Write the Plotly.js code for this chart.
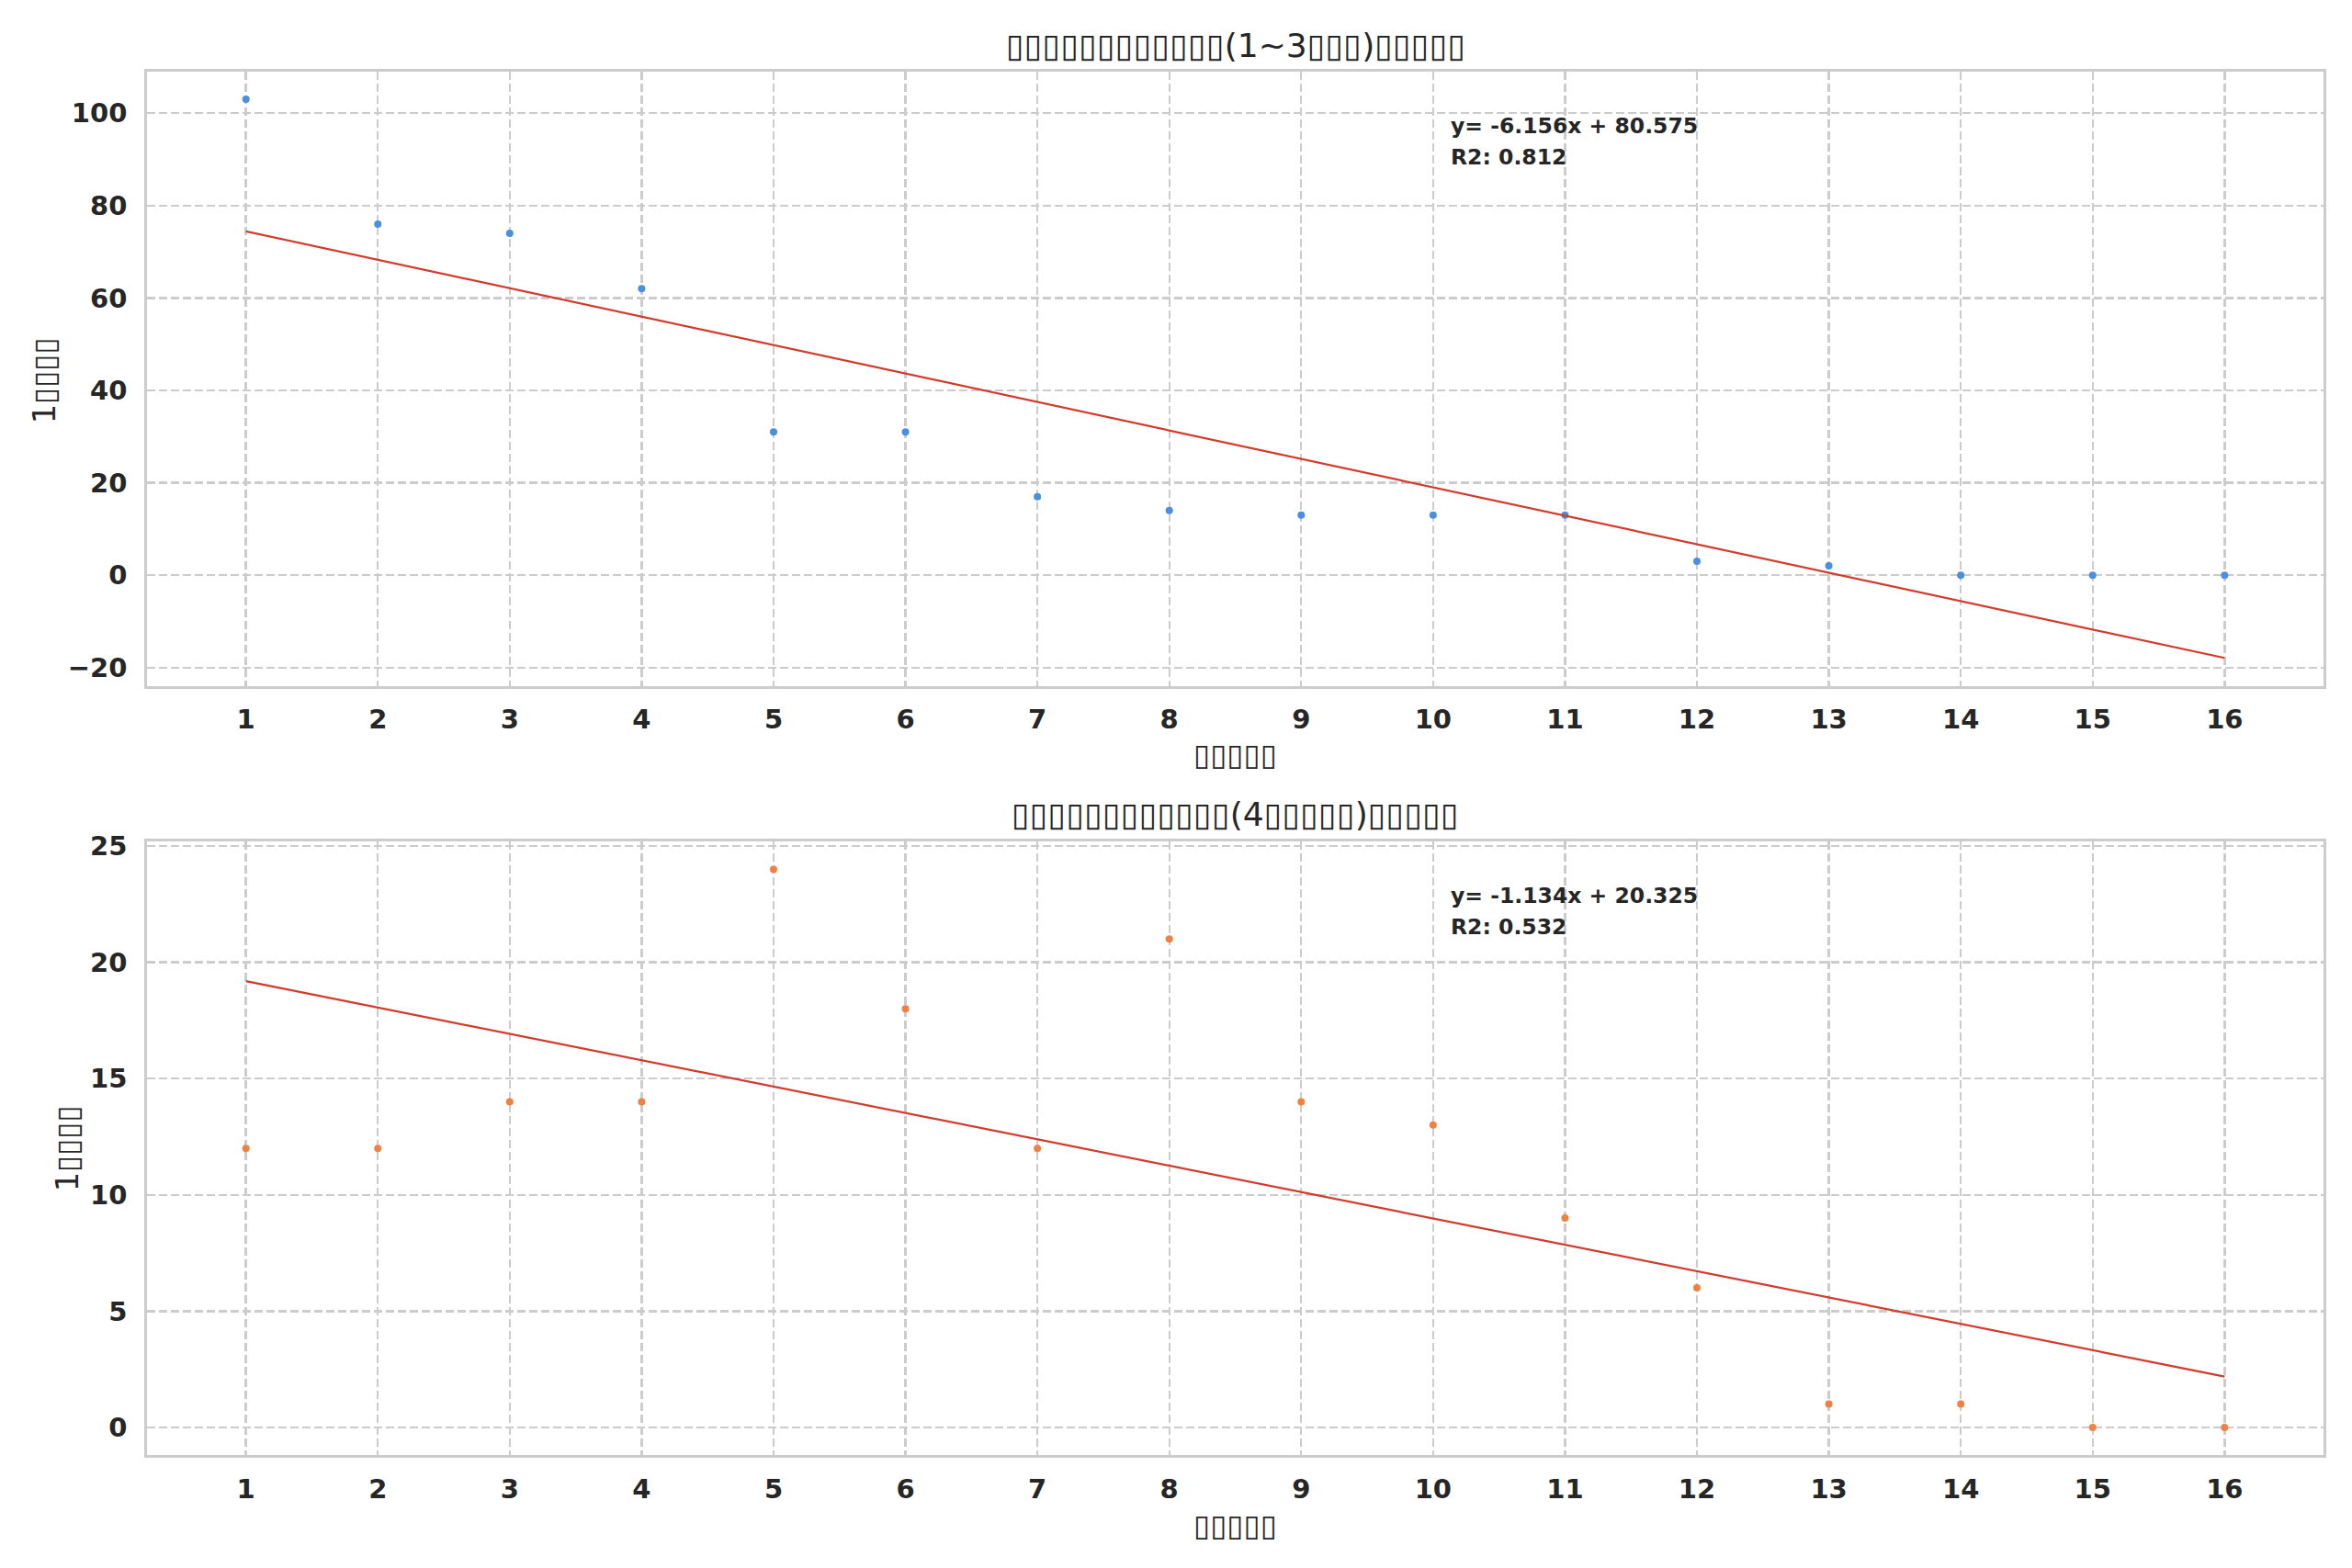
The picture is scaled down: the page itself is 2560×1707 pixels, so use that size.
<!DOCTYPE html>
<html>
<head>
<meta charset="utf-8">
<script src="https://cdn.plot.ly/plotly-3.0.1.min.js"></script>
<style>
html,body{margin:0;padding:0;background:#fff;}
#chart{width:2560px;height:1707px;}
</style>
</head>
<body>
<div id="chart"></div>
<script>
// ---- data ----
var xValues = [1,2,3,4,5,6,7,8,9,10,11,12,13,14,15,16];
var seriesTop = [103,76,74,62,31,31,17,14,13,13,13,3,2,0,0,0];
var seriesBottom = [12,12,14,14,24,18,12,21,14,13,9,6,1,1,0,0];
var xTickVals = [1,2,3,4,5,6,7,8,9,10,11,12,13,14,15,16];
// text as it appears in the reference (missing-glyph boxes)
var titleTop = "▯▯▯▯▯▯▯▯▯▯▯▯(1~3▯▯▯)▯▯▯▯▯";
var titleBottom = "▯▯▯▯▯▯▯▯▯▯▯▯(4▯▯▯▯▯)▯▯▯▯▯";
var xLabel = "▯▯▯▯▯";
var yLabel = "1▯▯▯▯";

// ---- least-squares fit ----
function fit(xs, ys){
  var n = xs.length, sx=0, sy=0;
  for (var i=0;i<n;i++){ sx+=xs[i]; sy+=ys[i]; }
  var mx=sx/n, my=sy/n, sxy=0, sxx=0, sst=0;
  for (var i=0;i<n;i++){ sxy+=(xs[i]-mx)*(ys[i]-my); sxx+=(xs[i]-mx)*(xs[i]-mx); sst+=(ys[i]-my)*(ys[i]-my); }
  var m=sxy/sxx, b=my-m*mx, sse=0;
  var yf = xs.map(function(x){return m*x+b;});
  for (var i=0;i<n;i++){ sse+=(ys[i]-yf[i])*(ys[i]-yf[i]); }
  return {m:m, b:b, r2:1-sse/sst, yf:yf};
}
function padRange(arrs){
  var lo=Infinity, hi=-Infinity;
  arrs.forEach(function(a){ a.forEach(function(v){ lo=Math.min(lo,v); hi=Math.max(hi,v); }); });
  var p=(hi-lo)*0.05; return [lo-p, hi+p];
}
var fTop = fit(xValues, seriesTop);
var fBot = fit(xValues, seriesBottom);
function eq(f){ return "y= " + f.m.toFixed(3) + "x + " + f.b.toFixed(3); }

var FONT = "DejaVu Sans";
var TXT = "#262626";
var red = "#d23a2b";

var traces = [
  {x:xValues, y:seriesTop, type:"scatter", mode:"markers", marker:{color:"#4a8fe0", size:8}, xaxis:"x", yaxis:"y", hoverinfo:"skip"},
  {x:xValues, y:fTop.yf, type:"scatter", mode:"lines", line:{color:red, width:2.2}, xaxis:"x", yaxis:"y", hoverinfo:"skip"},
  {x:xValues, y:seriesBottom, type:"scatter", mode:"markers", marker:{color:"#ef8242", size:8}, xaxis:"x2", yaxis:"y2", hoverinfo:"skip"},
  {x:xValues, y:fBot.yf, type:"scatter", mode:"lines", line:{color:red, width:2.2}, xaxis:"x2", yaxis:"y2", hoverinfo:"skip"}
];

var xr = padRange([xValues]);
var axCommon = {
  showgrid:true, gridcolor:"#cccccc", gridwidth:2.4, griddash:"9px,4px",
  zeroline:false, showline:true, mirror:true, linecolor:"#cccccc", linewidth:2.8,
  ticks:"", tickfont:{family:FONT, size:29, color:TXT, weight:"bold"}
};
function xa(anchor, dom){
  return Object.assign({}, axCommon, {domain:dom, anchor:anchor, range:xr, tickmode:"array", tickvals:xTickVals, ticktext:xTickVals.map(String), ticklabelstandoff:9});
}
function ya(anchor, dom, range, dtick){
  return Object.assign({}, axCommon, {domain:dom, anchor:anchor, range:range, tick0:0, dtick:dtick, ticklabelstandoff:13, tickformat:"d"});
}

var xd = [160/2560, 2529/2560];
var topDom = [1-746.7/1707, 1-77.7/1707];
var botDom = [1-1584.3/1707, 1-916/1707];

var annFont = {family:FONT, size:23.5, color:TXT, weight:"bold"};
function ann(text, x, y, opts){
  return Object.assign({text:text, x:x, y:y, xref:"paper", yref:"paper", showarrow:false, xanchor:"center", yanchor:"middle"}, opts||{});
}

var annotations = [
  ann(titleTop, 0.5*(xd[0]+xd[1]), 1-49/1707, {font:{family:FONT, size:36, color:TXT}}),
  ann(titleBottom, 0.5*(xd[0]+xd[1]), 1-886/1707, {font:{family:FONT, size:36, color:TXT}}),
  ann(xLabel, 0.5*(xd[0]+xd[1]), 1-821/1707, {font:{family:FONT, size:33, color:TXT}}),
  ann(xLabel, 0.5*(xd[0]+xd[1]), 1-1660/1707, {font:{family:FONT, size:33, color:TXT}}),
  ann(yLabel, 48/2560, 1-414/1707, {textangle:-90, font:{family:FONT, size:33, color:TXT}}),
  ann(yLabel, 73/2560, 1-1250/1707, {textangle:-90, font:{family:FONT, size:33, color:TXT}}),
  {text:eq(fTop), xref:"x domain", yref:"y domain", x:0.598, y:0.935, xanchor:"left", yanchor:"top", showarrow:false, font:annFont},
  {text:"R2: " + fTop.r2.toFixed(3), xref:"x domain", yref:"y domain", x:0.598, y:0.935, yshift:-33.7, xanchor:"left", yanchor:"top", showarrow:false, font:annFont},
  {text:eq(fBot), xref:"x2 domain", yref:"y2 domain", x:0.598, y:0.935, xanchor:"left", yanchor:"top", showarrow:false, font:annFont},
  {text:"R2: " + fBot.r2.toFixed(3), xref:"x2 domain", yref:"y2 domain", x:0.598, y:0.935, yshift:-33.7, xanchor:"left", yanchor:"top", showarrow:false, font:annFont}
];

var layout = {
  width:2560, height:1707,
  margin:{l:0, r:0, t:0, b:0},
  paper_bgcolor:"#ffffff", plot_bgcolor:"#ffffff",
  showlegend:false,
  font:{family:FONT, color:TXT},
  xaxis: xa("y", xd),
  yaxis: ya("x", topDom, padRange([seriesTop, fTop.yf]), 20),
  xaxis2: xa("y2", xd),
  yaxis2: ya("x2", botDom, padRange([seriesBottom, fBot.yf]), 5),
  annotations: annotations
};

Plotly.newPlot("chart", traces, layout, {staticPlot:true, displayModeBar:false});
</script>
</body>
</html>
